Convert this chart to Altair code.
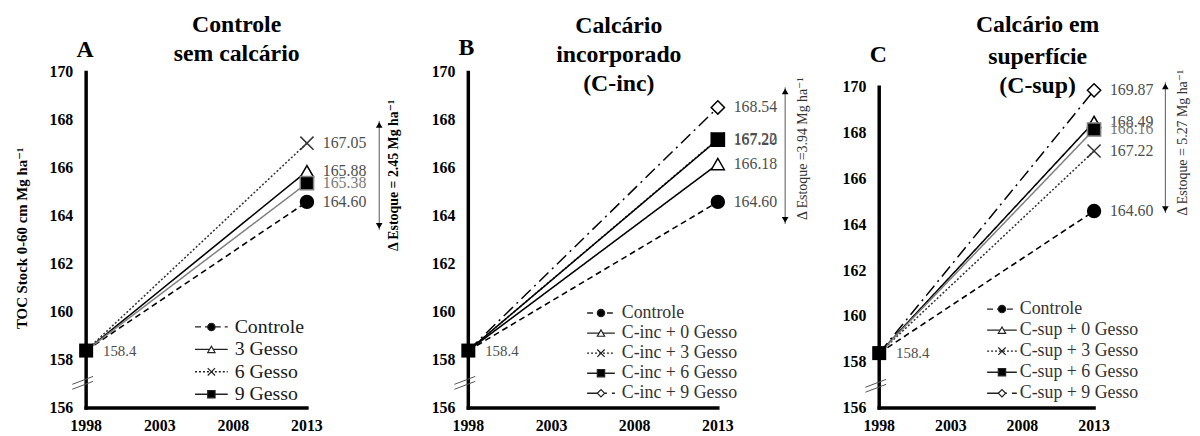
import altair as alt
import pandas as pd

# ---- data -------------------------------------------------------------
years = [1998, 2013]
start_value = 158.4

a_series = ["Controle", "3 Gesso", "6 Gesso", "9 Gesso"]
a_end = [164.60, 165.88, 167.05, 165.38]

b_series = ["Controle", "C-inc + 0 Gesso", "C-inc + 3 Gesso",
            "C-inc + 6 Gesso", "C-inc + 9 Gesso"]
b_end = [164.60, 166.18, 167.22, 167.20, 168.54]

c_series = ["Controle", "C-sup + 0 Gesso", "C-sup + 3 Gesso",
            "C-sup + 6 Gesso", "C-sup + 9 Gesso"]
c_end = [164.60, 168.49, 167.22, 168.16, 169.87]

delta_stock = [2.45, 3.94, 5.27]
y_ticks = [156, 158, 160, 162, 164, 166, 168, 170]
x_ticks = [1998, 2003, 2008, 2013]

# ---- styles -----------------------------------------------------------
SERIF = "'Liberation Serif', 'Times New Roman', 'DejaVu Serif', serif"
X_PATH = "M-1,-1L1,1M-1,1L1,-1"
STYLE = {
    "ctrl": dict(dash=[6, 4], width=1.6, stroke="black", shape="circle", fill="black", size=170, text="#4d4d4d"),
    "tri": dict(dash=[1, 0], width=1.5, stroke="black", shape="triangle-up", fill="white", size=180, text="#4d4d4d"),
    "x": dict(dash=[2, 2], width=1.2, stroke="#333333", shape=X_PATH, fill="transparent", size=260, text="#4d4d4d"),
    "sq_gray": dict(dash=[1, 0], width=1.6, stroke="#808080", shape="square", fill="black", size=170, text="#7a7a7a"),
    "sq": dict(dash=[1, 0], width=1.5, stroke="black", shape="square", fill="black", size=170, text="#4d4d4d"),
    "dia": dict(dash=[13, 5, 2, 5], width=2.4, stroke="black", shape="diamond", fill="white", size=220, text="#4d4d4d"),
}
HEIGHT = 339


def text_at(text, x, y, size, weight="normal", color="black", angle=0, align="center"):
    return alt.Chart(pd.DataFrame({"t": [text]})).mark_text(
        font=SERIF, fontSize=size, fontWeight=weight, color=color,
        angle=angle, align=align, baseline="middle"
    ).encode(text="t:N", x=alt.value(x), y=alt.value(y))


def panel(series, ends, styles, ydom, width, letter, letter_xy, title_lines,
          title_x, title_ys, legend, delta, ytitle=None):
    sty = [STYLE[s] for s in styles]
    enc_stroke = alt.Stroke("series:N", scale=alt.Scale(domain=series, range=[s["stroke"] for s in sty]), legend=None)
    enc_dash = alt.StrokeDash("series:N", scale=alt.Scale(domain=series, range=[s["dash"] for s in sty]), legend=None)
    enc_width = alt.StrokeWidth("series:N", scale=alt.Scale(domain=series, range=[s["width"] for s in sty]), legend=None)
    enc_shape = alt.Shape("series:N", scale=alt.Scale(domain=series, range=[s["shape"] for s in sty]), legend=None)
    enc_fill = alt.Fill("series:N", scale=alt.Scale(domain=series, range=[s["fill"] for s in sty]), legend=None)
    enc_size = alt.Size("series:N", scale=alt.Scale(domain=series, range=[s["size"] for s in sty]), legend=None)
    enc_text_color = alt.Color("series:N", scale=alt.Scale(domain=series, range=[s["text"] for s in sty]), legend=None)

    rows = []
    for name, end in zip(series, ends):
        rows.append({"series": name, "year": years[0], "value": start_value})
        rows.append({"series": name, "year": years[1], "value": end})
    df = pd.DataFrame(rows)
    end_df = pd.DataFrame({"series": series, "year": years[1], "value": ends,
                           "label": [f"{v:.2f}" for v in ends]})
    start_df = pd.DataFrame({"year": [years[0]], "value": [start_value],
                             "label": [f"{start_value:.1f}"]})

    xscale = alt.Scale(domain=[years[0], years[1]], nice=False, zero=False)
    yscale = alt.Scale(domain=ydom, nice=False, zero=False)
    x_plain = alt.X("year:Q", scale=xscale, axis=None)
    y_plain = alt.Y("value:Q", scale=yscale, axis=None)

    # heavy axis lines and tick labels placed through the panel's scales
    axis_df = pd.DataFrame({"year": [years[0]], "year2": [years[1]],
                            "value": [y_ticks[0]], "value2": [y_ticks[-1]]})
    y_axis_line = alt.Chart(axis_df).mark_rule(color="black", strokeWidth=3.5, strokeCap="square").encode(
        x=x_plain, y=y_plain, y2="value2:Q")
    x_axis_line = alt.Chart(axis_df).mark_rule(color="black", strokeWidth=3.5, strokeCap="square").encode(
        y=y_plain, x=x_plain, x2="year2:Q")
    y_labels = alt.Chart(pd.DataFrame({"value": y_ticks})).mark_text(
        align="right", baseline="middle", dx=-13, font=SERIF, fontSize=16,
        fontWeight="bold", color="black"
    ).encode(x=alt.value(0), y=y_plain, text=alt.Text("value:Q", format="d"))
    x_labels = alt.Chart(pd.DataFrame({"year": x_ticks})).mark_text(
        align="center", baseline="top", dy=10, font=SERIF, fontSize=16,
        fontWeight="bold", color="black"
    ).encode(x=x_plain, y=alt.value(HEIGHT), text=alt.Text("year:Q", format="d"))

    base = alt.Chart(pd.DataFrame({"k": [0]}))

    lines = alt.Chart(df).mark_line().encode(
        x=x_plain, y=y_plain, stroke=enc_stroke, strokeDash=enc_dash,
        strokeWidth=enc_width, detail="series:N")
    points = alt.Chart(end_df).mark_point(opacity=1, strokeWidth=1.5).encode(
        x=x_plain, y=y_plain, shape=enc_shape, fill=enc_fill, stroke=enc_stroke, size=enc_size)
    labels = alt.Chart(end_df).mark_text(
        align="left", baseline="middle", dx=16, font=SERIF, fontSize=16
    ).encode(x=x_plain, y=y_plain, text="label:N", color=enc_text_color)
    start_pt = alt.Chart(start_df).mark_point(
        shape="square", filled=True, color="black", size=200, opacity=1
    ).encode(x=x_plain, y=y_plain)
    start_lbl = alt.Chart(start_df).mark_text(
        align="left", baseline="middle", dx=17, font=SERIF, fontSize=15, color="#4d4d4d"
    ).encode(x=x_plain, y=y_plain, text="label:N")

    # axis break marks on the y axis
    by = legend["break_y"]
    brk1 = base.mark_rule(color="#555555", strokeWidth=1).encode(
        x=alt.value(-14), y=alt.value(by + 4), x2=alt.value(7), y2=alt.value(by - 4))
    brk2 = base.mark_rule(color="#555555", strokeWidth=1).encode(
        x=alt.value(-14), y=alt.value(by + 9), x2=alt.value(7), y2=alt.value(by + 1))

    # stock difference arrow
    ax, ay0, ay1 = delta["x"], delta["y0"], delta["y1"]
    arrow = base.mark_rule(color="#555555", strokeWidth=1).encode(
        x=alt.value(ax), y=alt.value(ay0), y2=alt.value(ay1))
    head_up = base.mark_point(shape="triangle-up", filled=True, color="black", size=45, opacity=1).encode(
        x=alt.value(ax), y=alt.value(ay0 + 4))
    head_dn = base.mark_point(shape="triangle-down", filled=True, color="black", size=45, opacity=1).encode(
        x=alt.value(ax), y=alt.value(ay1 - 4))
    delta_txt = text_at(delta["text"], delta["tx"], delta["ty"], 14,
                        weight=delta["weight"], color=delta["color"], angle=270)

    titles = [text_at(t, title_x, ty, 24, weight="bold") for t, ty in zip(title_lines, title_ys)]
    letter_txt = text_at(letter, letter_xy[0], letter_xy[1], 24, weight="bold")
    extra = []
    if ytitle:
        extra.append(text_at(ytitle, -65, HEIGHT / 2 - 2, 15, weight="bold", angle=270))

    # legend rows: a short styled line, its marker and the series name
    leg_layers = []
    n = len(series)
    step = (legend["y1"] - legend["y0"]) / (n - 1)
    mid = (legend["x0"] + legend["x1"]) / 2
    for i, name in enumerate(series):
        ly = legend["y0"] + i * step
        row = alt.Chart(pd.DataFrame({"series": [name]}))
        leg_layers.append(row.mark_rule(color="#222222", strokeWidth=1.4).encode(
            x=alt.value(legend["x0"]), x2=alt.value(legend["x1"]), y=alt.value(ly),
            strokeDash=enc_dash))
        leg_layers.append(row.mark_point(size=55, strokeWidth=1.2, opacity=1, stroke="#222222").encode(
            x=alt.value(mid), y=alt.value(ly), shape=enc_shape, fill=enc_fill))
        leg_layers.append(row.mark_text(
            align="left", baseline="middle", font=SERIF, fontSize=legend["size"], color=legend["color"]
        ).encode(x=alt.value(legend["tx"]), y=alt.value(ly), text="series:N"))

    return alt.layer(lines, y_axis_line, x_axis_line, y_labels, x_labels, brk1, brk2,
                     points, labels, start_pt, start_lbl, arrow, head_up, head_dn,
                     delta_txt, letter_txt, *titles, *extra, *leg_layers
                     ).properties(width=width, height=HEIGHT)


panel_a = panel(
    a_series, a_end, ["ctrl", "tri", "x", "sq_gray"], [156, 170], 223,
    "A", (-1, -23), ["Controle", "sem calcário"], 152, [-48, -19],
    dict(y0=257, y1=325, x0=110, x1=143, tx=150, size=20, color="#1a1a1a", break_y=311),
    dict(x=296, y0=49, y1=159, tx=311, ty=104, weight="bold", color="black",
         text=f"Δ Estoque = {delta_stock[0]:.2f} Mg ha⁻¹"),
    ytitle="TOC Stock 0-60 cm Mg ha⁻¹")

panel_b = panel(
    b_series, b_end, ["ctrl", "tri", "x", "sq", "dia"], [156, 170], 252,
    "B", (-2, -25), ["Calcário", "incorporado", "(C-inc)"], 152, [-47, -18, 12],
    dict(y0=243, y1=324, x0=120, x1=148, tx=155, size=18, color="#333333", break_y=311),
    dict(x=320, y0=15, y1=153, tx=338, ty=77, weight="normal", color="#333333",
         text=f"Δ Estoque ={delta_stock[1]:.2f} Mg ha⁻¹"))

panel_c = panel(
    c_series, c_end, ["ctrl", "tri", "x", "sq_gray", "dia"], [156, 170.65], 217,
    "C", (-1, -18), ["Calcário em", "superfície", "(C-sup)"], 160, [-48, -16, 14],
    dict(y0=239, y1=324, x0=109, x1=139, tx=142, size=18, color="#333333", break_y=314),
    dict(x=289, y0=10, y1=142, tx=307, ty=71, weight="normal", color="#333333",
         text=f"Δ Estoque = {delta_stock[2]:.2f} Mg ha⁻¹"))

chart = alt.hconcat(panel_a, panel_b, panel_c, spacing=163, bounds="flush").resolve_scale(
    x="independent", y="independent", stroke="independent", strokeDash="independent",
    strokeWidth="independent", shape="independent", fill="independent", size="independent",
    color="independent"
).properties(
    padding={"left": 15, "top": 11, "right": 10, "bottom": 0},
    background="white",
).configure_view(stroke=None)

chart.save("out.html", embed_options={"renderer": "svg", "actions": False})
